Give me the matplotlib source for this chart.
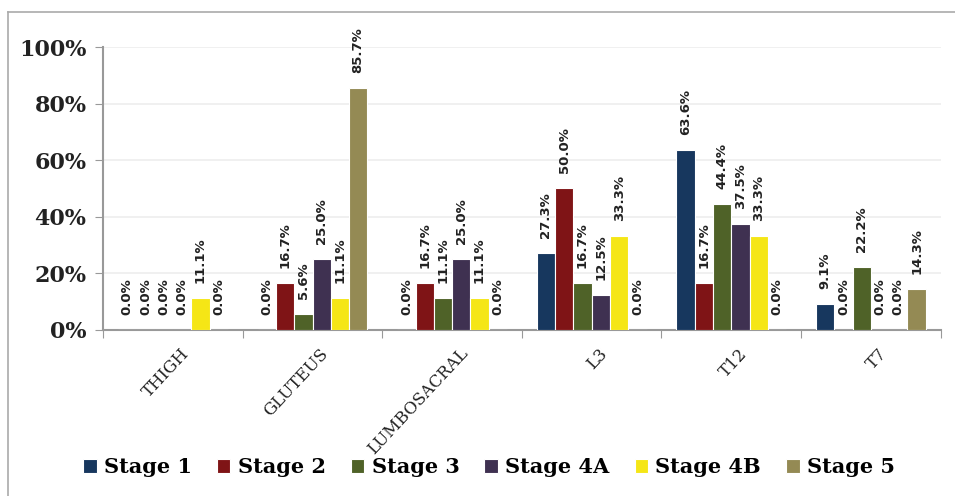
import matplotlib.pyplot as plt
import numpy as np
from matplotlib.lines import Line2D

categories = ['THIGH', 'GLUTEUS', 'LUMBOSACRAL', 'L3', 'T12', 'T7']
stages = ['Stage 1', 'Stage 2', 'Stage 3', 'Stage 4A', 'Stage 4B', 'Stage 5']
colors = ['#17375E', '#7F1416', '#4F6228', '#3F3151', '#F5E616', '#948A54']

stage1 = [0.0, 0.0, 0.0, 27.3, 63.6, 9.1]
stage2 = [0.0, 16.7, 16.7, 50.0, 16.7, 0.0]
stage3 = [0.0, 5.6, 11.1, 16.7, 44.4, 22.2]
stage4a = [0.0, 25.0, 25.0, 12.5, 37.5, 0.0]
stage4b = [11.1, 11.1, 11.1, 33.3, 33.3, 0.0]
stage5 = [0.0, 85.7, 0.0, 0.0, 0.0, 14.3]
series = [stage1, stage2, stage3, stage4a, stage4b, stage5]

fig = plt.figure(figsize=(9.55, 4.96), dpi=100)
ax = fig.add_axes([0.108, 0.335, 0.877, 0.57])

x = np.arange(len(categories))
w = 0.131
for i, vals in enumerate(series):
    pos = x + (i - 2.5) * w
    ax.bar(pos, vals, w, color=colors[i], edgecolor='white', linewidth=0.8,
           label=stages[i], zorder=3)
    for px, v in zip(pos, vals):
        ax.annotate(f'{v:.1f}%', (px, v), xytext=(0, 15), textcoords='offset pixels',
                    rotation=90, ha='center', va='bottom', fontsize=9.5,
                    fontweight='bold', color='#222222', family='DejaVu Sans')

ax.set_xlim(-0.5, 5.5)
ax.set_ylim(0, 100)
ax.set_yticks(range(0, 101, 20))
ax.set_yticklabels([f'{t}%' for t in range(0, 101, 20)], family='DejaVu Serif',
                   fontweight='bold', fontsize=16, color='#222222')
ax.grid(axis='y', color='#EEEEEE', linewidth=1.2, zorder=0)

# boundaries get the tick marks, centres get the names
ax.set_xticks(np.arange(-0.5, 6.0, 1.0))
ax.set_xticklabels([])
ax.set_xticks(x + 0.05, minor=True)
ax.set_xticklabels(categories, minor=True, rotation=47, ha='right',
                   rotation_mode='anchor', family='DejaVu Serif', fontsize=12,
                   color='#222222')
ax.tick_params(axis='x', which='minor', length=0, pad=11)
ax.tick_params(axis='x', which='major', length=6, color='#999999')
ax.tick_params(axis='y', length=6, color='#999999', pad=6)

for s in ['top', 'right']:
    ax.spines[s].set_visible(False)
for s in ['left', 'bottom']:
    ax.spines[s].set_color('#999999')
    ax.spines[s].set_linewidth(1.5)

leg = fig.legend(loc='center', bbox_to_anchor=(0.512, 0.058), ncol=6, frameon=False,
                 prop={'family': 'DejaVu Serif', 'weight': 'bold', 'size': 15},
                 handlelength=0.65, handleheight=0.65, handletextpad=0.35,
                 columnspacing=1.2)

fig.add_artist(Line2D([8 / 955, 8 / 955], [0, 1 - 12 / 496], color='#AAAAAA', lw=1.2))
fig.add_artist(Line2D([8 / 955, 1], [1 - 12 / 496, 1 - 12 / 496], color='#AAAAAA', lw=1.2))

fig.savefig('out.png', dpi=100)
